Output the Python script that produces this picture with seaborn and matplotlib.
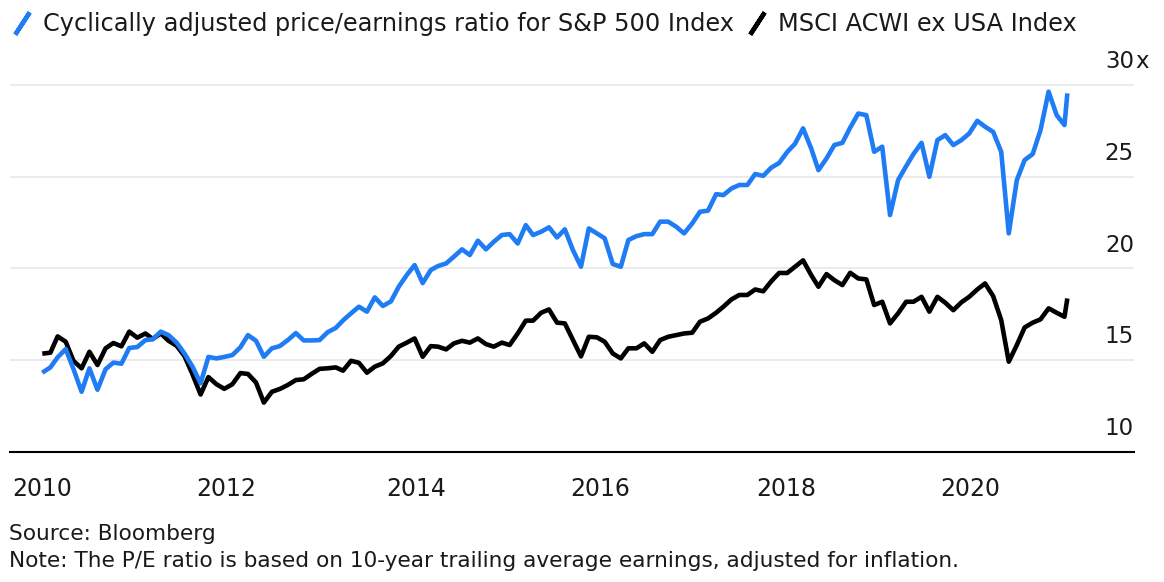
import numpy as np
import pandas as pd
import matplotlib
matplotlib.use("Agg")
import matplotlib.pyplot as plt
import matplotlib.transforms as mtransforms
from matplotlib.lines import Line2D
from matplotlib.markers import MarkerStyle
import seaborn as sns

# Series names
spx_name = "Cyclically adjusted price/earnings ratio for S&P 500 Index"
acwi_name = "MSCI ACWI ex USA Index"

# Monthly readings Jan 2010 - Oct 2020, plus the latest reading
spx_cape = [
    14.31, 14.60, 15.15, 15.60, 14.50, 13.27, 14.55, 13.38, 14.50, 14.86,
    14.80, 15.66, 15.71, 16.09, 16.13, 16.55, 16.36, 15.95, 15.36, 14.64,
    13.73, 15.17, 15.09, 15.17, 15.27, 15.70, 16.36, 16.05, 15.18, 15.64,
    15.76, 16.09, 16.47, 16.07, 16.07, 16.09, 16.52, 16.75, 17.16, 17.55,
    17.91, 17.64, 18.42, 17.95, 18.20, 19.00, 19.64, 20.18, 19.20, 19.91,
    20.13, 20.27, 20.64, 21.04, 20.73, 21.51, 21.04, 21.45, 21.82, 21.87,
    21.36, 22.36, 21.82, 22.00, 22.24, 21.69, 22.13, 21.00, 20.09, 22.18,
    21.91, 21.64, 20.24, 20.09, 21.55, 21.76, 21.87, 21.87, 22.55, 22.55,
    22.27, 21.91, 22.45, 23.09, 23.15, 24.05, 24.00, 24.36, 24.55, 24.55,
    25.15, 25.05, 25.50, 25.75, 26.35, 26.80, 27.64, 26.55, 25.36, 26.00,
    26.73, 26.85, 27.68, 28.45, 28.36, 26.36, 26.64, 22.91, 24.82, 25.58,
    26.24, 26.85, 25.00, 27.00, 27.27, 26.73, 27.00, 27.36, 28.05, 27.73,
    27.45, 26.36, 21.91, 24.82, 25.91, 26.24, 27.55, 29.64, 28.36, 27.82,
    29.55,
]
acwi_pe = [
    15.35, 15.40, 16.29, 16.00, 14.95, 14.55, 15.45, 14.73, 15.64, 15.93,
    15.75, 16.55, 16.22, 16.45, 16.15, 16.45, 16.05, 15.78, 15.22, 14.22,
    13.12, 14.07, 13.68, 13.43, 13.68, 14.29, 14.24, 13.77, 12.68, 13.27,
    13.42, 13.64, 13.91, 13.95, 14.25, 14.52, 14.55, 14.60, 14.42, 14.96,
    14.85, 14.31, 14.64, 14.82, 15.22, 15.73, 15.95, 16.18, 15.18, 15.76,
    15.73, 15.58, 15.91, 16.05, 15.95, 16.18, 15.87, 15.73, 15.95, 15.82,
    16.45, 17.15, 17.15, 17.58, 17.76, 17.04, 17.00, 16.10, 15.20, 16.27,
    16.24, 16.00, 15.36, 15.09, 15.64, 15.64, 15.91, 15.45, 16.09, 16.27,
    16.36, 16.45, 16.49, 17.09, 17.27, 17.58, 17.91, 18.31, 18.55, 18.55,
    18.85, 18.75, 19.30, 19.75, 19.75, 20.09, 20.44, 19.64, 19.00, 19.69,
    19.36, 19.09, 19.76, 19.45, 19.40, 18.00, 18.18, 17.00, 17.55, 18.18,
    18.18, 18.45, 17.64, 18.45, 18.13, 17.72, 18.15, 18.45, 18.85, 19.18,
    18.49, 17.18, 14.91, 15.82, 16.78, 17.04, 17.22, 17.82, 17.58, 17.36,
    18.36,
]
dates = list(pd.date_range("2010-01-01", "2020-10-01", freq="MS")) + [pd.Timestamp("2020-10-12")]

# year labels and where they sit under the data in the source chart
year_ticks = ["2010", "2012", "2014", "2016", "2018", "2020"]
year_tick_dates = ["2010-01-01", "2011-12-08", "2013-12-07", "2015-11-14", "2017-10-28", "2019-10-06"]
y_ticks = [10, 15, 20, 25, 30]

blue = "#1f7cf4"
ink = "#1a1a1a"

df = pd.DataFrame({
    "date": dates * 2,
    "value": spx_cape + acwi_pe,
    "series": [spx_name] * len(dates) + [acwi_name] * len(dates),
})

sns.set_style("white")
plt.rcParams["font.family"] = ["DejaVu Sans"]
plt.rcParams["text.color"] = ink

fig = plt.figure(figsize=(11.64, 5.82), dpi=100)
ax = fig.add_axes([10 / 1164, (582 - 451.7) / 582, 1124 / 1164, (451.7 - 57.6) / 582])

sns.lineplot(
    data=df, x="date", y="value", hue="series",
    hue_order=[acwi_name, spx_name],
    palette={spx_name: blue, acwi_name: "black"},
    linewidth=3.3, legend=False, ax=ax, estimator=None,
    solid_capstyle="butt", solid_joinstyle="round",
)

ax.set_xlim(pd.Timestamp("2009-08-30"), pd.Timestamp("2021-06-25"))
ax.set_ylim(10, 31.5)
ax.set_xlabel("")
ax.set_ylabel("")

# x axis: year ticks
ax.set_xticks([pd.Timestamp(d) for d in year_tick_dates])
ax.set_xticklabels(year_ticks, fontsize=17, color=ink)
ax.tick_params(axis="x", direction="out", length=7.6, width=1.1, color="black", pad=10.5)

# y axis: grid only, labels drawn on the right above the gridlines
ax.set_yticks(y_ticks)
ax.tick_params(axis="y", left=False, labelleft=False)
ax.yaxis.grid(True, color="#e6e6e6", linewidth=1.1)
ax.xaxis.grid(False)
for side in ["top", "left", "right"]:
    ax.spines[side].set_visible(False)
ax.spines["bottom"].set_color("black")
ax.spines["bottom"].set_linewidth(1.5)

label_tf = mtransforms.offset_copy(ax.get_yaxis_transform(), fig=fig, x=0, y=16.7, units="dots")
suffix_tf = mtransforms.offset_copy(ax.get_yaxis_transform(), fig=fig, x=1, y=16.7, units="dots")
for v in y_ticks:
    ax.text(1.0, v, str(v), transform=label_tf, ha="right", va="baseline", fontsize=16.5, color=ink)
ax.text(1.0, y_ticks[-1], "x", transform=suffix_tf, ha="left", va="baseline", fontsize=16.5, color=ink)

# legend with slanted-stroke handles
stroke = MarkerStyle((2, 2, -33))
handles = [
    Line2D([], [], linestyle="none", marker=stroke, markersize=19, markeredgewidth=3.2, color=blue),
    Line2D([], [], linestyle="none", marker=stroke, markersize=19, markeredgewidth=3.2, color="black"),
]
fig.legend(
    handles, [spx_name, acwi_name], loc="upper left", bbox_to_anchor=(11.5 / 1164, 1 - 12 / 582),
    ncol=2, frameon=False, fontsize=17.3, handlelength=0.9, handletextpad=0.42,
    columnspacing=0.5, borderpad=0, borderaxespad=0,
)

fig.text(9 / 1164, 1 - 540 / 582, "Source: Bloomberg", fontsize=15.6, va="baseline", color=ink)
fig.text(9 / 1164, 1 - 566.7 / 582,
         "Note: The P/E ratio is based on 10-year trailing average earnings, adjusted for inflation.",
         fontsize=15.6, va="baseline", color=ink)

fig.savefig("out.png", dpi=100)
